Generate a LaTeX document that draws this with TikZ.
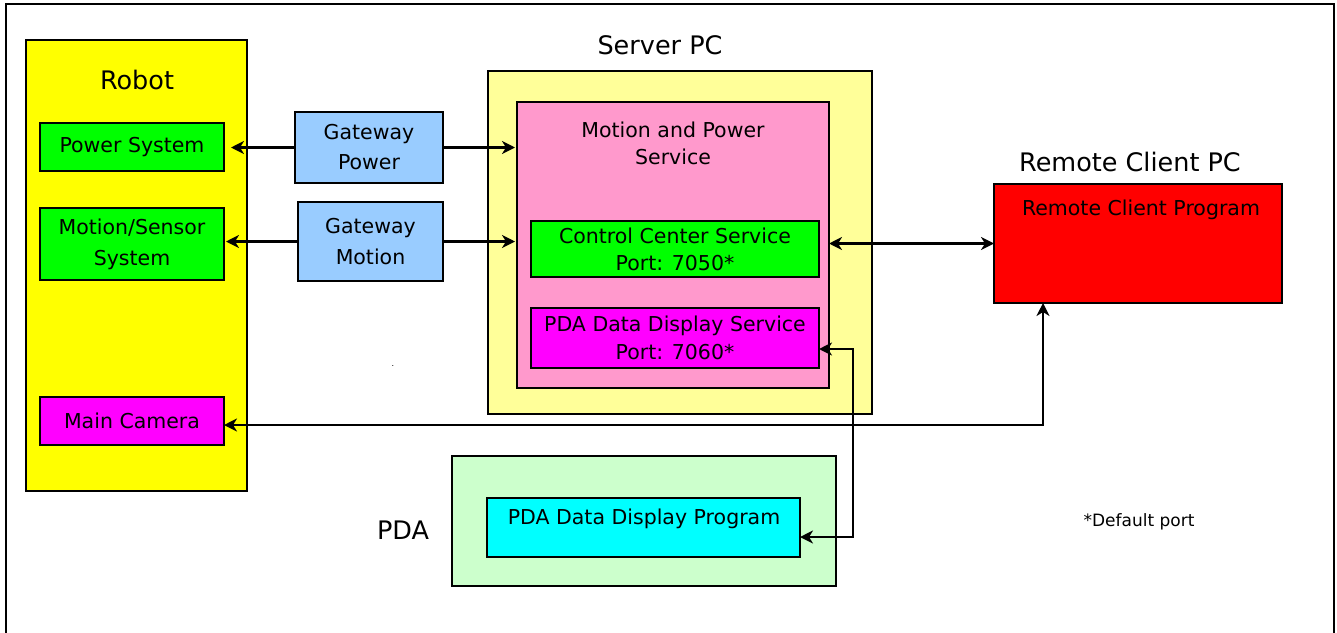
\documentclass[tikz,border=0pt]{standalone}
\usepackage{fontspec}
\setmainfont{DejaVu Sans}
\usetikzlibrary{arrows.meta}
\definecolor{cYellow}{HTML}{FFFF00}
\definecolor{cGreen}{HTML}{00FF00}
\definecolor{cBlue}{HTML}{99CCFF}
\definecolor{cLtYellow}{HTML}{FFFF99}
\definecolor{cPink}{HTML}{FF99CC}
\definecolor{cMagenta}{HTML}{FF00FF}
\definecolor{cRed}{HTML}{FF0000}
\definecolor{cLtGreen}{HTML}{CCFFCC}
\definecolor{cCyan}{HTML}{00FFFF}
\tikzset{
  box/.style={draw=black, line width=2.6pt, inner sep=0pt, outer sep=0pt, align=center,
    font=\fontsize{20.5}{29}\selectfont},
  title/.style={font=\fontsize{25.5}{28}\selectfont, inner sep=0pt},
  lbl/.style={font=\fontsize{20.5}{27}\selectfont, inner sep=0pt, align=center},
  arr/.style={line width=2.2pt, -{Stealth[length=13pt,width=13pt,inset=4pt]}},
  arrb/.style={line width=2.2pt, {Stealth[length=13pt,width=13pt,inset=4pt]}-{Stealth[length=13pt,width=13pt,inset=4pt]}},
}
\begin{document}
\begin{tikzpicture}[x=1pt,y=-1pt]
\useasboundingbox (0,0) rectangle (1337,632);
% outer frame
\draw[line width=2.4pt] (6,633) -- (6,4) -- (1334,4) -- (1334,633);

% Robot
\node[box, fill=cYellow, minimum width=221pt, minimum height=451pt] (robot) at (136.5,265.5) {};
\node[title] (robotT) at (137,80) {Robot};
\node[box, fill=cGreen, minimum width=184pt, minimum height=48pt] (ps) at (132,147) {Power System};
\node[box, fill=cGreen, minimum width=184pt, minimum height=72pt,
  font=\fontsize{20.5}{31}\selectfont] (mss) at (132,244) {Motion/Sensor\\System};
\node[box, fill=cMagenta, minimum width=184pt, minimum height=48pt] (mc) at (132,421) {Main Camera};

% Gateways
\node[box, fill=cBlue, minimum width=148pt, minimum height=71pt,
  font=\fontsize{20.5}{30}\selectfont] (gp) at (369,147.5) {Gateway\\Power};
\node[box, fill=cBlue, minimum width=145pt, minimum height=79pt,
  font=\fontsize{20.5}{31}\selectfont] (gm) at (370.5,241.5) {Gateway\\Motion};

% Server PC
\node[title] (serverT) at (660,45) {Server PC};
\node[box, fill=cLtYellow, minimum width=384pt, minimum height=343pt] (server) at (680,242.5) {};
\node[box, fill=cPink, minimum width=312pt, minimum height=286pt] (mps) at (673,245) {};
\node[lbl] (mpsT) at (673,143) {Motion and Power\\Service};
\node[box, fill=cGreen, minimum width=288pt, minimum height=56pt,
  font=\fontsize{20.5}{27}\selectfont] (cc) at (675,249) {Control Center Service\\Port: 7050*};
\node[box, fill=cMagenta, minimum width=288pt, minimum height=60pt,
  font=\fontsize{20.5}{28}\selectfont] (pds) at (675,338) {PDA Data Display Service\\Port: 7060*};

% Remote client
\node[title] (rcT) at (1130,162) {Remote Client PC};
\node[box, fill=cRed, minimum width=288pt, minimum height=119pt] (rc) at (1138,243.5) {};
\node[lbl] (rcText) at (1141,210) {Remote Client Program};

% PDA
\node[title] (pdaT) at (403,530) {PDA};
\node[box, fill=cLtGreen, minimum width=384pt, minimum height=130pt] (pda) at (644,521) {};
\node[box, fill=cCyan, minimum width=313pt, minimum height=59pt] (pdp) at (643.5,527.5) {};
\node[lbl] (pdpT) at (644,519) {PDA Data Display Program};

% footnote and stray dot
\node[font=\fontsize{17}{20}\selectfont, inner sep=0pt] (note) at (1139,522) {*Default port};
\node[font=\fontsize{8}{10}\selectfont, inner sep=0pt] (dot) at (393,366) {.};

% connectors
\draw[arr, shorten >=7pt] (gp.west) -- (gp.west -| ps.east);
\draw[arr, shorten >=2pt] (gp.east) -- (gp.east -| mps.west);
\draw[arr, shorten >=2pt] (gm.west) -- (gm.west -| mss.east);
\draw[arr, shorten >=2pt] (gm.east) -- (gm.east -| mps.west);
\draw[arrb] (rc.west -| mps.east) -- (rc.west);
\coordinate (j1) at (853,349);
\coordinate (j2) at (853,537);
\draw[arrb] (j1 -| pds.east) -- (j1) -- (j2) -- (j2 -| pdp.east);
\coordinate (k) at (1043,425);
\draw[arrb] (k -| mc.east) -- (k) -- (k |- rc.south);
\end{tikzpicture}
\end{document}
